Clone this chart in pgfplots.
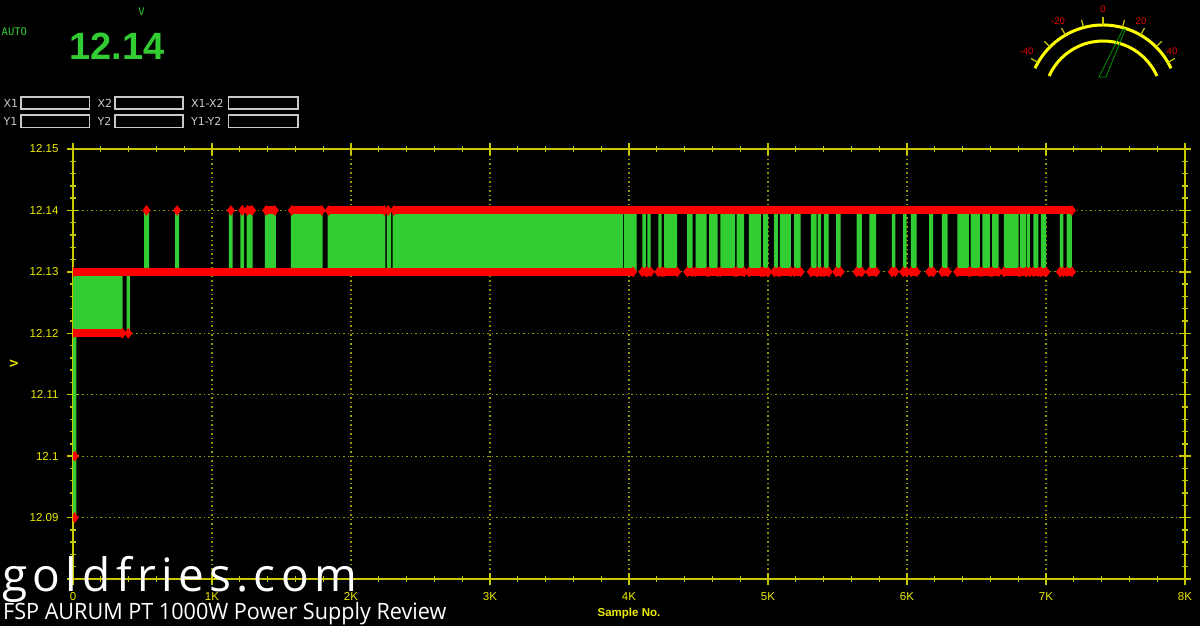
\documentclass[border=0pt]{standalone}
\usepackage{fontspec}
\setmainfont{Liberation Sans}
\newfontfamily\boxfont{DejaVu Sans}
\newfontfamily\monofont{DejaVu Sans Mono}
\newfontfamily\wmfont[LetterSpace=11.5]{Open Sans}
\newfontfamily\capfont[FakeStretch=0.96]{Open Sans}
\usepackage{pgfplots}
\pgfplotsset{compat=1.18}

\definecolor{axisyel}{RGB}{200,200,0}
\definecolor{labelyel}{RGB}{235,235,0}
\definecolor{gridyel}{RGB}{150,150,0}
\definecolor{trace}{RGB}{50,205,50}
\definecolor{dotred}{RGB}{255,0,0}
\definecolor{boxgray}{RGB}{200,200,200}
\definecolor{needle}{RGB}{0,150,0}
\definecolor{gaugeyel}{RGB}{255,255,0}
\definecolor{gaugered}{RGB}{230,0,0}

\begin{document}
\begin{tikzpicture}
\fill[black] (0pt,0pt) rectangle (1200pt,626pt);
\useasboundingbox (0pt,0pt) rectangle (1200pt,626pt);

% readout header
\node[anchor=west, inner sep=0, text=trace, font=\monofont\fontsize{10.5}{12}\selectfont] at (1.5pt,594pt) {AUTO};
\node[inner sep=0, text=trace, font=\monofont\fontsize{10.5}{12}\selectfont] at (141.5pt,614.5pt) {V};
\node[inner sep=0, text=trace, font=\bfseries\fontsize{38}{40}\selectfont] at (117pt,580pt) {12.14};

% cursor boxes
\begin{scope}[boxgray, line width=1.5pt]
\draw (21pt,529pt) rectangle (89.5pt,517pt);
\draw (115pt,529pt) rectangle (183pt,517pt);
\draw (228.5pt,529pt) rectangle (298pt,517pt);
\draw (21pt,511pt) rectangle (89.5pt,498.5pt);
\draw (115pt,511pt) rectangle (183pt,498.5pt);
\draw (228.5pt,511pt) rectangle (298pt,498.5pt);
\end{scope}
\begin{scope}[every node/.style={anchor=west, inner sep=0, text=boxgray, font=\boxfont\fontsize{11}{12}\selectfont}]
\node at (3.5pt,523pt) {X1};
\node at (97.5pt,523pt) {X2};
\node at (191pt,523pt) {X1-X2};
\node at (3.5pt,505pt) {Y1};
\node at (97.5pt,505pt) {Y2};
\node at (191pt,505pt) {Y1-Y2};
\end{scope}

% deviation gauge
\coordinate (C) at (1103pt,526pt);
\draw[gaugeyel, line width=3pt] ([shift={(25:75pt)}]C) arc[start angle=25, end angle=155, radius=75pt];
\draw[gaugeyel, line width=3pt] ([shift={(24:59pt)}]C) arc[start angle=24, end angle=156, radius=59pt];
\foreach \a in {30,45,...,150}
  \draw[axisyel, line width=1.2pt] ([shift={(\a:75pt)}]C) -- ([shift={(\a:83pt)}]C);
\begin{scope}[every node/.style={inner sep=0, text=gaugered, font=\fontsize{9.5}{10}\selectfont}]
\node at (1103pt,616.5pt) {0};
\node at (1141pt,605pt) {20};
\node at (1058pt,605pt) {-20};
\node at (1172pt,575pt) {40};
\node at (1026.5pt,575pt) {-40};
\end{scope}
\draw[needle, line width=0.8pt] (1099pt,549pt) -- (1106pt,549pt) -- (1125.5pt,597pt) -- (1123pt,597pt) -- cycle;

\begin{axis}[
  at={(73pt,47pt)}, anchor=south west,
  scale only axis, width=1112pt, height=430pt,
  xmin=0, xmax=8000, ymin=12.08, ymax=12.15,
  axis line style={axisyel, line width=2pt},
  xtick={0,1000,2000,3000,4000,5000,6000,7000,8000},
  xticklabels={0,1K,2K,3K,4K,5K,6K,7K,8K},
  ytick={12.08,12.09,12.1,12.11,12.12,12.13,12.14,12.15},
  yticklabels={,12.09,12.1,12.11,12.12,12.13,12.14,12.15},
  minor x tick num=4, minor y tick num=4,
  tick align=center,
  major tick length=12pt, minor tick length=6pt,
  tick style={axisyel, line width=1.3pt},
  grid=major,
  major grid style={gridyel, line width=1.2pt, dash pattern=on 1.5pt off 3pt},
  ticklabel style={text=labelyel, font=\fontsize{11.5}{12}\selectfont},
  xticklabel style={yshift=-4pt},
  yticklabel style={xshift=-5pt},
  xlabel={Sample No.}, ylabel={V},
  label style={text=labelyel, font=\bfseries\fontsize{11.5}{12}\selectfont},
  xlabel style={at={(axis description cs:0.5,-0.0814)}, anchor=center},
  ylabel style={at={(axis description cs:-0.0531,0.5)}, anchor=center},
  clip marker paths=true,
  unbounded coords=jump,
]
% green trace: swing from 12.13 down to the start-up values
\addplot[const plot, fill=trace, draw=none] coordinates {
  (0,12.13) (0,12.09) (25,12.12) (357,12.13) (386,12.12) (410,12.13)
};
% green trace: toggling between 12.13 and 12.14
\addplot[const plot, fill=trace, draw=none] coordinates {
  (0,12.13)
  (511,12.14)(547,12.13) (734,12.14)(763,12.13) (1122,12.14)(1149,12.13)
  (1204,12.14)(1232,12.13) (1250,12.14)(1293,12.13) (1381,12.14)(1460,12.13)
  (1568,12.14)(1796,12.13) (1832,12.14)(2247,12.13) (2259,12.14)(2288,12.13)
  (2300,12.14)(3958,12.13) (3966,12.14)(4055,12.13) (4096,12.14)(4122,12.13)
  (4132,12.14)(4156,12.13) (4211,12.14)(4235,12.13) (4252,12.14)(4347,12.13)
  (4419,12.14)(4458,12.13) (4480,12.14)(4559,12.13) (4576,12.14)(4638,12.13)
  (4657,12.14)(4763,12.13) (4775,12.14)(4829,12.13) (4863,12.14)(4950,12.13)
  (4966,12.14)(5002,12.13) (5045,12.14)(5072,12.13) (5086,12.14)(5165,12.13)
  (5189,12.14)(5235,12.13) (5309,12.14)(5350,12.13) (5357,12.14)(5383,12.13)
  (5403,12.14)(5437,12.13) (5491,12.14)(5523,12.13) (5638,12.14)(5676,12.13)
  (5729,12.14)(5779,12.13) (5892,12.14)(5916,12.13) (5973,12.14)(5998,12.13)
  (6029,12.14)(6070,12.13) (6160,12.14)(6189,12.13) (6252,12.14)(6293,12.13)
  (6362,12.14)(6446,12.13) (6458,12.14)(6525,12.13) (6542,12.14)(6597,12.13)
  (6612,12.14)(6660,12.13) (6698,12.14)(6803,12.13) (6813,12.14)(6856,12.13)
  (6861,12.14)(6885,12.13) (6909,12.14)(6945,12.13) (6964,12.14)(7002,12.13)
  (7101,12.14)(7125,12.13) (7149,12.14)(7187,12.13)
};
% red sample points, runs of samples at one level drawn as bars
\addplot[dotred, line width=8pt, mark=diamond*, mark size=5pt,
  mark options={solid, line width=0.4pt, fill=dotred, draw=dotred}] coordinates {
  (12,12.09) (12,nan) (12,12.10) (12,nan)
  (0,12.12) (355,12.12) (355,nan) (398,12.12) (398,nan)
  (0,12.13) (4030,12.13) (4030,nan)
  (4096,12.13)(4122,12.13)(4122,nan) (4132,12.13)(4156,12.13)(4156,nan)
  (4211,12.13)(4235,12.13)(4235,nan) (4252,12.13)(4347,12.13)(4347,nan)
  (4419,12.13)(4458,12.13)(4458,nan) (4480,12.13)(4559,12.13)(4559,nan)
  (4576,12.13)(4638,12.13)(4638,nan) (4657,12.13)(4763,12.13)(4763,nan)
  (4775,12.13)(4829,12.13)(4829,nan) (4863,12.13)(4950,12.13)(4950,nan)
  (4966,12.13)(5002,12.13)(5002,nan) (5045,12.13)(5072,12.13)(5072,nan)
  (5086,12.13)(5165,12.13)(5165,nan) (5189,12.13)(5235,12.13)(5235,nan)
  (5309,12.13)(5350,12.13)(5350,nan) (5357,12.13)(5383,12.13)(5383,nan)
  (5403,12.13)(5437,12.13)(5437,nan) (5491,12.13)(5523,12.13)(5523,nan)
  (5638,12.13)(5676,12.13)(5676,nan) (5729,12.13)(5779,12.13)(5779,nan)
  (5892,12.13)(5916,12.13)(5916,nan) (5973,12.13)(5998,12.13)(5998,nan)
  (6029,12.13)(6070,12.13)(6070,nan) (6160,12.13)(6189,12.13)(6189,nan)
  (6252,12.13)(6293,12.13)(6293,nan) (6362,12.13)(6446,12.13)(6446,nan)
  (6458,12.13)(6525,12.13)(6525,nan) (6542,12.13)(6597,12.13)(6597,nan)
  (6612,12.13)(6660,12.13)(6660,nan) (6698,12.13)(6803,12.13)(6803,nan)
  (6813,12.13)(6856,12.13)(6856,nan) (6861,12.13)(6885,12.13)(6885,nan)
  (6909,12.13)(6945,12.13)(6945,nan) (6964,12.13)(7002,12.13)(7002,nan)
  (7101,12.13)(7125,12.13)(7125,nan) (7149,12.13)(7187,12.13)(7187,nan)
  (529,12.14) (529,nan) (749,12.14) (749,nan) (1136,12.14) (1136,nan)
  (1218,12.14) (1218,nan) (1255,12.14)(1288,12.14)(1288,nan)
  (1390,12.14)(1452,12.14)(1452,nan) (1575,12.14)(1790,12.14)(1790,nan)
  (1840,12.14)(2240,12.14)(2240,nan) (2268,12.14)(2268,nan)
  (2310,12.14)(7187,12.14)
};
\end{axis}

% watermark
\node[anchor=base west, inner sep=0, text=white, font=\wmfont\fontsize{46}{48}\selectfont] at (2pt,34pt) {goldfries.com};
\node[anchor=base west, inner sep=0, text=white, font=\capfont\fontsize{22.5}{24}\selectfont] at (3pt,6pt) {FSP AURUM PT 1000W Power Supply Review};
\end{tikzpicture}
\end{document}
